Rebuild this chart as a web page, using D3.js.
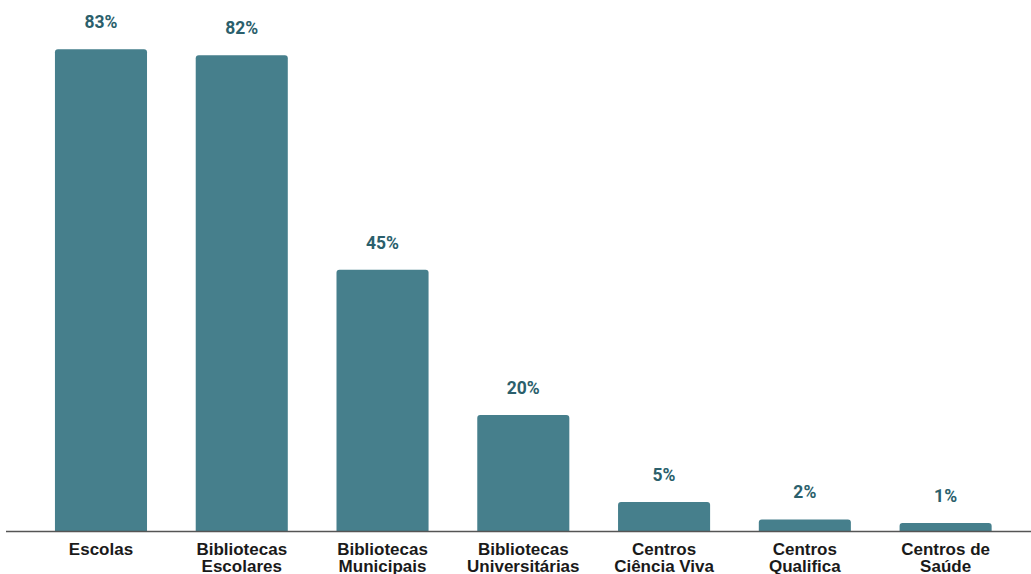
<!DOCTYPE html>
<html>
<head>
<meta charset="utf-8">
<script src="https://cdn.jsdelivr.net/npm/d3@7"></script>
<style>
  html, body { margin: 0; padding: 0; background: #fff; }
  svg { display: block; }
</style>
</head>
<body>
<svg id="chart" width="1031" height="574"></svg>
<script>
const categories = [
  ["Escolas"],
  ["Bibliotecas", "Escolares"],
  ["Bibliotecas", "Municipais"],
  ["Bibliotecas", "Universitárias"],
  ["Centros", "Ciência Viva"],
  ["Centros", "Qualifica"],
  ["Centros de", "Saúde"]
];
const values = [83, 82, 45, 20, 5, 2, 1];

const svg = d3.select("#chart");
const baseY = 531;

const keys = categories.map(c => c.join(" "));
const x = d3.scaleBand()
  .domain(keys)
  .range([30.6, 1016])
  .paddingInner(0.346)
  .paddingOuter(0.173);

const y = d3.scaleLinear().domain([0, 91.5]).range([baseY, 0]);

const barColor = "#467f8c";
const r = 3;
const minH = 8;
const barTop = v => Math.min(y(v), baseY - minH);

// bars with rounded top corners
svg.append("g").selectAll("path")
  .data(values)
  .join("path")
  .attr("fill", barColor)
  .attr("d", (v, i) => {
    const x0 = x(keys[i]), w = x.bandwidth();
    const top = barTop(v);
    return `M${x0},${baseY} V${top + r} Q${x0},${top} ${x0 + r},${top} H${x0 + w - r} Q${x0 + w},${top} ${x0 + w},${top + r} V${baseY} Z`;
  });

// value labels
svg.append("g").selectAll("text")
  .data(values)
  .join("text")
  .attr("x", (v, i) => x(keys[i]) + x.bandwidth() / 2)
  .attr("y", v => barTop(v) - 21)
  .attr("text-anchor", "middle")
  .attr("font-family", "Roboto, sans-serif")
  .attr("font-weight", "bold")
  .attr("font-size", 17.5)
  .attr("fill", "#2b5f6c")
  .text(v => v + "%");

// baseline axis
const xAxis = d3.axisBottom(x).tickSize(0).tickFormat("");
const axisG = svg.append("g").attr("transform", `translate(0,${baseY})`).call(xAxis);
axisG.select(".domain").remove();
svg.append("line")
  .attr("x1", 6).attr("x2", 1031)
  .attr("y1", baseY + 0.5).attr("y2", baseY + 0.5)
  .attr("stroke", "#555").attr("stroke-width", 1.5);

// category labels
const catG = svg.append("g").selectAll("text")
  .data(categories)
  .join("text")
  .attr("x", (c, i) => x(keys[i]) + x.bandwidth() / 2)
  .attr("y", 555)
  .attr("text-anchor", "middle")
  .attr("font-family", "'Liberation Sans', Arial, sans-serif")
  .attr("font-weight", "bold")
  .attr("font-size", 17)
  .attr("fill", "#1a1a1a");
catG.each(function(c) {
  const t = d3.select(this);
  c.forEach((line, j) => {
    t.append("tspan")
      .attr("x", t.attr("x"))
      .attr("dy", j === 0 ? 0 : 17)
      .text(line);
  });
});
</script>
</body>
</html>
